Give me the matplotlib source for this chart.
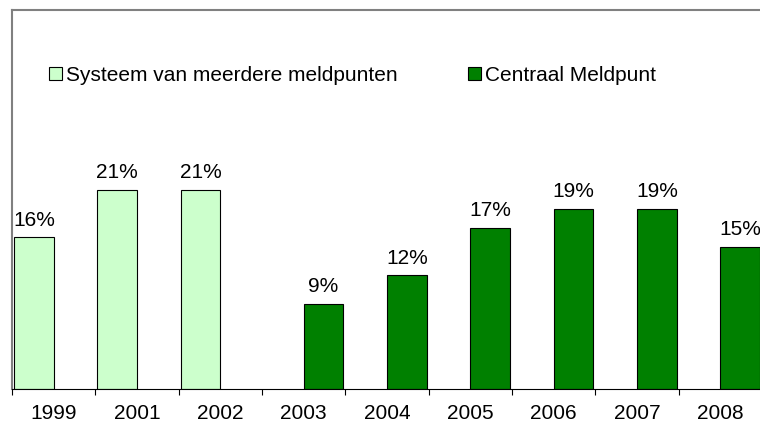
import matplotlib.pyplot as plt
import numpy as np

plt.rcParams['font.family'] = ['Liberation Sans', 'DejaVu Sans']

years = ['1999', '2001', '2002', '2003', '2004', '2005', '2006', '2007', '2008']
systeem = [16, 21, 21, np.nan, np.nan, np.nan, np.nan, np.nan, np.nan]
centraal = [np.nan, np.nan, np.nan, 9, 12, 17, 19, 19, 15]

fig = plt.figure(figsize=(7.6, 4.23), dpi=100)
ax = fig.add_axes([12 / 760, 34 / 423, 750 / 760, 379 / 423])

x = np.arange(len(years))
w = 0.476
b1 = ax.bar(x - w / 2, systeem, width=w, color='#CCFFCC', edgecolor='black',
            linewidth=0.8, label='Systeem van meerdere meldpunten')
b2 = ax.bar(x + w / 2, centraal, width=w, color='#008000', edgecolor='black',
            linewidth=0.8, label='Centraal Meldpunt')

# percentage labels above the bars
for bars, vals in [(b1, systeem), (b2, centraal)]:
    for r, v in zip(bars, vals):
        if np.isnan(v):
            continue
        ax.annotate(f'{v:.0f}%', (r.get_x() + r.get_width() / 2, v),
                    xytext=(0, 5.5), textcoords='offset points',
                    ha='center', va='bottom', fontsize=15)

ax.set_xlim(-0.5, len(years) - 0.5)
ax.set_ylim(0, 40)
ax.set_yticks([])
ax.set_xticks(x)
ax.set_xticklabels(years, fontsize=15)
ax.set_xticks(np.arange(len(years) + 1) - 0.5, minor=True)
ax.tick_params(axis='x', which='major', length=0, pad=11)
ax.tick_params(axis='x', which='minor', length=4.5, width=0.8, direction='out')

ax.spines['right'].set_visible(False)
ax.spines['left'].set_color('#808080')
ax.spines['top'].set_color('#808080')
ax.spines['left'].set_linewidth(1.5)
ax.spines['top'].set_linewidth(1.5)
ax.spines['bottom'].set_color('black')
ax.spines['bottom'].set_linewidth(0.8)

ax.legend(loc='center left', bbox_to_anchor=(0.0495, 0.828), ncol=2,
          frameon=False, fontsize=15, handlelength=0.6, handleheight=0.6,
          handletextpad=0.2, columnspacing=3.4, borderpad=0, borderaxespad=0)

fig.savefig('out.png', dpi=100)
